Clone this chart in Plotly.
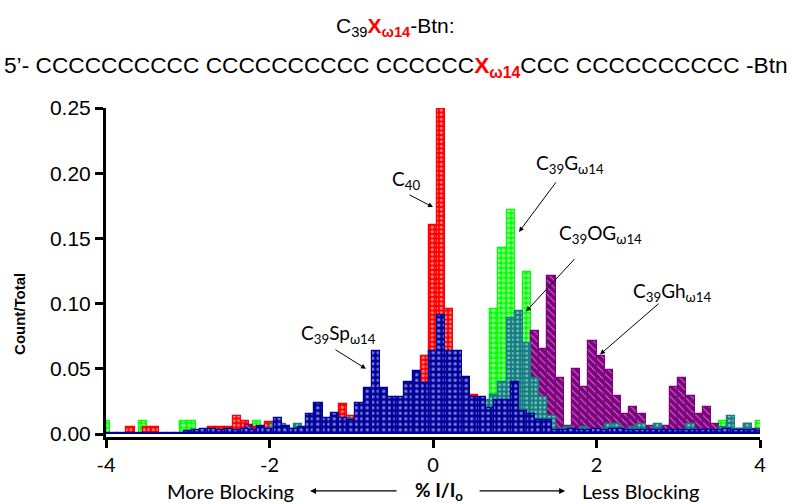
import plotly.graph_objects as go

# ---------------- data (bin centre, fraction of events) ----------------
BLUE_BINS = [round(-4.0 + 0.1 * i, 2) for i in range(81)]
BLUE_VALUES = [
    0.001, 0.001, 0.001, 0.001, 0.001, 0.001, 0.001, 0.001, 0.001, 0.001,   # -4.0 .. -3.1
    0.002, 0.003, 0.004, 0.004, 0.003, 0.004, 0.003, 0.004, 0.003, 0.006,   # -3.0 .. -2.1
    0.004, 0.012, 0.006, 0.004, 0.005, 0.015, 0.024, 0.012, 0.016, 0.012,   # -2.0 .. -1.1
    0.011, 0.024, 0.035, 0.064, 0.035, 0.028, 0.028, 0.040, 0.048, 0.039,   # -1.0 .. -0.1
    0.064, 0.091, 0.064, 0.064, 0.044, 0.028, 0.028, 0.020, 0.026, 0.026,   #  0.0 .. 0.9
    0.040, 0.018, 0.015, 0.011, 0.011, 0.003, 0.003, 0.004, 0.003, 0.003,   #  1.0 .. 1.9
    0.004, 0.003, 0.004, 0.004, 0.003, 0.003, 0.003, 0.003, 0.003, 0.003,   #  2.0 .. 2.9
    0.003, 0.003, 0.003, 0.003, 0.003, 0.003, 0.004, 0.003, 0.003, 0.003,   #  3.0 .. 3.9
    0.002,                                                                  #  4.0
]

RED_BINS = [-3.7, -3.5, -3.4, -2.7, -2.6, -2.5, -2.4, -2.3, -2.2, -2.0,
            -1.1, -1.0, -0.1, 0.0, 0.1, 0.2, 0.5]
RED_VALUES = [0.005, 0.005, 0.005, 0.005, 0.005, 0.005, 0.014, 0.010, 0.005, 0.009,
              0.023, 0.014, 0.060, 0.160, 0.250, 0.096, 0.030]

GREEN_BINS = [-4.0, -3.55, -3.05, -2.95, -2.15, 0.75, 0.85, 0.95, 1.05, 1.15,
              2.95, 3.55, 4.0]
GREEN_VALUES = [0.010, 0.010, 0.010, 0.010, 0.010, 0.096, 0.143, 0.172, 0.090, 0.124,
                0.010, 0.010, 0.010]

TEAL_BINS = [-1.95, -1.85, -1.75, -1.65, -1.55, -1.05, 0.45, 0.55, 0.65, 0.75,
             0.85, 0.95, 1.05, 1.15, 1.25, 1.35, 1.45, 1.55, 1.65, 1.75,
             1.85, 1.95, 2.05, 2.15, 2.25, 2.35, 2.45, 2.55, 2.65, 2.75,
             2.85, 3.05, 3.15, 3.25, 3.45, 3.55, 3.65, 3.75, 3.85, 3.95]
TEAL_VALUES = [0.008, 0.008, 0.004, 0.008, 0.004, 0.012, 0.026, 0.020, 0.026, 0.030,
               0.040, 0.089, 0.094, 0.070, 0.043, 0.028, 0.014, 0.004, 0.005, 0.003,
               0.005, 0.003, 0.004, 0.008, 0.008, 0.004, 0.005, 0.008, 0.003, 0.008,
               0.003, 0.003, 0.008, 0.003, 0.003, 0.005, 0.014, 0.004, 0.008, 0.003]

PURPLE_BINS = [-2.25, 1.25, 1.35, 1.45, 1.55, 1.65, 1.75, 1.85, 1.95, 2.05,
               2.15, 2.25, 2.35, 2.45, 2.55, 2.65, 2.75, 2.85, 2.95, 3.05,
               3.15, 3.25, 3.35, 3.45, 3.55, 3.65, 3.75, 3.85, 3.95]
PURPLE_VALUES = [0.007, 0.079, 0.065, 0.121, 0.043, 0.006, 0.050, 0.036, 0.071, 0.060,
                 0.049, 0.029, 0.015, 0.021, 0.015, 0.006, 0.005, 0.006, 0.036, 0.043,
                 0.029, 0.015, 0.021, 0.008, 0.004, 0.005, 0.004, 0.008, 0.004]

X_TICKS = [-4, -2, 0, 2, 4]
Y_TICKS = [0.00, 0.05, 0.10, 0.15, 0.20, 0.25]

RED = "#ff0000"
GREEN = "#00ff00"
TEAL = "#138080"
NAVY = "#00009c"
PURPLE = "#800080"

fig = go.Figure()


def add_series(x, y, name, color, pattern):
    fig.add_trace(go.Bar(
        x=x, y=y, name=name, width=0.1,
        marker=dict(color=color, line=dict(color=color, width=1.2), pattern=pattern),
        showlegend=False,
    ))


add_series(GREEN_BINS, GREEN_VALUES, "C39G", GREEN,
           dict(shape=".", fgcolor="white", bgcolor=GREEN, size=5, solidity=0.55))
add_series(RED_BINS, RED_VALUES, "C40", RED,
           dict(shape=".", fgcolor="white", bgcolor=RED, size=4.5, solidity=0.35))
add_series(PURPLE_BINS, PURPLE_VALUES, "C39Gh", PURPLE,
           dict(shape="\\", fgcolor="white", bgcolor=PURPLE, size=5, solidity=0.2))
add_series(TEAL_BINS, TEAL_VALUES, "C39OG", TEAL,
           dict(shape=".", fgcolor="white", bgcolor=TEAL, size=4.5, solidity=0.3))
add_series(BLUE_BINS, BLUE_VALUES, "C39Sp", NAVY,
           dict(shape=".", fgcolor="white", bgcolor=NAVY, size=5.5, solidity=0.3))

ANN_FONT = dict(family="Lato, Open Sans, sans-serif", size=19, color="black")
ARIAL = "Liberation Sans, Arial, sans-serif"
CENTER = dict(xanchor="center", yanchor="middle", showarrow=False)

annotations = []

# series labels with arrows
labels = [
    ("C<sub>40</sub>", -0.33, 0.195, 0.0, 0.174, -25, -13),
    ("C<sub>39</sub>G<sub>ω14</sub>", 1.676, 0.207, 1.052, 0.155, 38, -51),
    ("C<sub>39</sub>OG<sub>ω14</sub>", 2.043, 0.153, 1.138, 0.094, 50, -54),
    ("C<sub>39</sub>Gh<sub>ω14</sub>", 2.924, 0.109, 2.043, 0.061, 60, -52),
    ("C<sub>39</sub>Sp<sub>ω14</sub>", -1.15, 0.077, -0.82, 0.050, -32, -20),
]
for text, tx, ty, hx, hy, ax, ay in labels:
    annotations.append(dict(text=text, x=tx, y=ty, xref="x", yref="y",
                            font=ANN_FONT, **CENTER))
    annotations.append(dict(text="", x=hx, y=hy, xref="x", yref="y",
                            showarrow=True, ax=ax, ay=ay, arrowhead=2,
                            arrowsize=1, arrowwidth=1, arrowcolor="black",
                            standoff=0, startstandoff=0))

# bottom axis description
BOT_Y = -0.164
annotations += [
    dict(text="More Blocking", x=0.191, y=BOT_Y, xref="paper", yref="paper",
         font=dict(family="Lato, sans-serif", size=20, color="black"), **CENTER),
    dict(text="<b>% I/I<sub>o</sub></b>", x=0.509, y=BOT_Y, xref="paper", yref="paper",
         font=dict(family="Lato, sans-serif", size=19, color="black"), **CENTER),
    dict(text="Less Blocking", x=0.817, y=BOT_Y, xref="paper", yref="paper",
         font=dict(family="Lato, sans-serif", size=20, color="black"), **CENTER),
    dict(text="", x=0.312, y=BOT_Y, xref="paper", yref="paper", showarrow=True,
         ax=88, ay=0, arrowhead=2, arrowsize=1, arrowwidth=1.2, arrowcolor="black"),
    dict(text="", x=0.702, y=BOT_Y, xref="paper", yref="paper", showarrow=True,
         ax=-87, ay=0, arrowhead=2, arrowsize=1, arrowwidth=1.2, arrowcolor="black"),
]

# y title
annotations.append(dict(text="<b>Count/Total</b>", x=-0.1315, y=0.374, xref="paper",
                        yref="paper", textangle=-90,
                        font=dict(family=ARIAL, size=15, color="black"), **CENTER))

# header lines
RX = "<span style='color:#ff0000'><b>X</b><sub><b>ω14</b></sub></span>"
annotations.append(dict(text="C<sub>39</sub>" + RX + "-Btn:", x=0.443, y=1.246,
                        xref="paper", yref="paper",
                        font=dict(family=ARIAL, size=21, color="black"), **CENTER))
annotations.append(dict(
    text="5’- CCCCCCCCCC CCCCCCCCCC CCCCCC" + RX + "CCC CCCCCCCCCC -Btn",
    x=0.443, y=1.125, xref="paper", yref="paper",
    font=dict(family=ARIAL, size=22.7, color="black"), **CENTER))

fig.update_layout(
    width=791, height=504,
    margin=dict(l=106, r=31, t=108, b=67),
    paper_bgcolor="white", plot_bgcolor="white",
    barmode="overlay", bargap=0,
    annotations=annotations,
    showlegend=False,
)
fig.update_xaxes(range=[-4, 4], tickvals=X_TICKS, ticktext=[str(v) for v in X_TICKS],
                 showgrid=False, zeroline=False, showline=True, linecolor="black",
                 linewidth=3, ticks="outside", ticklen=8, tickwidth=3, tickcolor="black",
                 tickfont=dict(family="Lato, sans-serif", size=20, color="black"))
fig.update_yaxes(range=[-0.0023, 0.25], tickvals=Y_TICKS, tickformat=".2f",
                 showgrid=False, zeroline=False, showline=True, linecolor="black",
                 linewidth=3, ticks="outside", ticklen=8, tickwidth=3, tickcolor="black",
                 tickfont=dict(family=ARIAL, size=21, color="black"))

fig.write_html("out.html", config={"displayModeBar": False},
               post_script="document.body.style.margin='0';document.body.style.overflow='hidden';")
